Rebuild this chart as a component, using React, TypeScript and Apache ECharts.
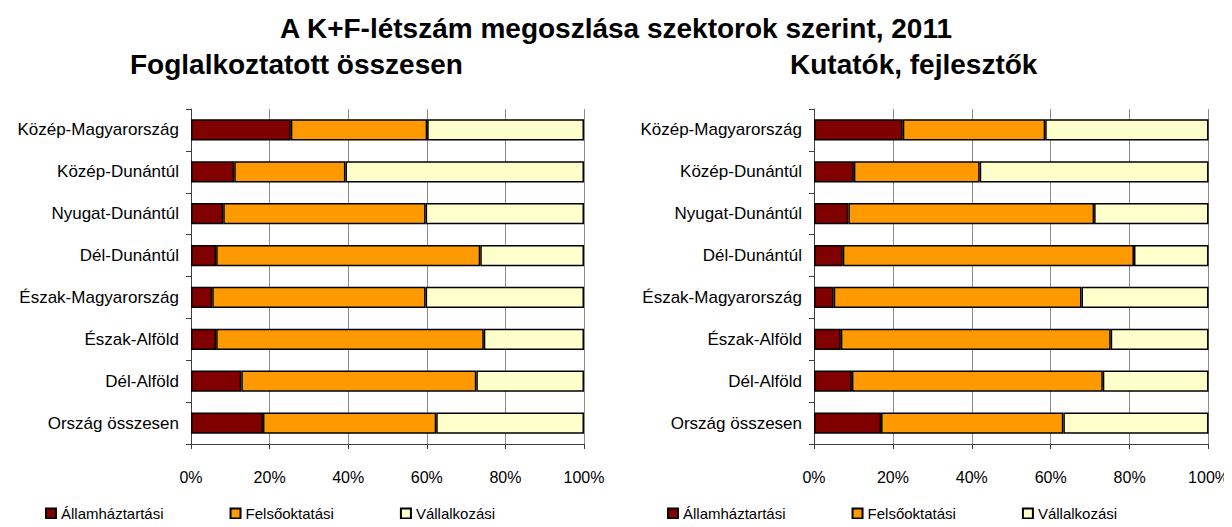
import React, { useEffect, useRef } from "react";
import * as echarts from "echarts";

const regions = [
  "Közép-Magyarország",
  "Közép-Dunántúl",
  "Nyugat-Dunántúl",
  "Dél-Dunántúl",
  "Észak-Magyarország",
  "Észak-Alföld",
  "Dél-Alföld",
  "Ország összesen",
];

const sectorNames = ["Államháztartási", "Felsőoktatási", "Vállalkozási"];
const sectorColors = ["#800000", "#FF9900", "#FFFFCC"];

// Foglalkoztatott összesen (%)
const totalState = [25.4, 11.0, 8.2, 6.4, 5.4, 6.4, 12.8, 18.3];
const totalHigherEd = [34.7, 28.3, 51.5, 67.2, 54.3, 68.1, 59.8, 44.1];
const totalBusiness = [39.9, 60.7, 40.3, 26.4, 40.3, 25.5, 27.4, 37.6];

// Kutatók, fejlesztők (%)
const resState = [22.5, 10.1, 8.7, 7.3, 5.0, 6.8, 9.6, 17.0];
const resHigherEd = [36.1, 31.9, 62.3, 73.8, 62.8, 68.4, 63.6, 46.2];
const resBusiness = [41.4, 58.0, 29.0, 18.9, 32.2, 24.8, 26.8, 36.8];

const xTicks = [0, 20, 40, 60, 80, 100];

const mainTitle = "A K+F-létszám megoszlása szektorok szerint, 2011";
const leftTitle = "Foglalkoztatott összesen";
const rightTitle = "Kutatók, fejlesztők";

const FONT = "'Liberation Sans', Arial, sans-serif";

export default function App() {
  const ref = useRef<HTMLDivElement>(null);
  useEffect(() => {
    if (!ref.current) return;
    const chart = echarts.init(ref.current, undefined, { renderer: "svg" });
    const grids = [
      { left: 191, width: 393, top: 109, height: 335 },
      { left: 814, width: 395, top: 109, height: 335 },
    ];
    const xAxis = grids.map((_, i) => ({
      type: "value",
      gridIndex: i,
      min: xTicks[0],
      max: xTicks[xTicks.length - 1],
      interval: 20,
      axisLine: { show: true, lineStyle: { color: "#404040", width: 1 } },
      axisTick: { show: true, length: 5, lineStyle: { color: "#404040" } },
      axisLabel: {
        formatter: "{value}%",
        color: "#000",
        fontFamily: FONT,
        fontSize: 16,
        margin: 25,
      },
      splitLine: { show: true, lineStyle: { color: "#8c8c8c", width: 1 } },
    }));
    const yAxis = grids.map((_, i) => ({
      type: "category",
      gridIndex: i,
      inverse: true,
      data: regions,
      axisLine: { show: true, lineStyle: { color: "#404040", width: 1 } },
      axisTick: { show: true, length: 5, lineStyle: { color: "#404040" } },
      axisLabel: {
        color: "#000",
        fontFamily: FONT,
        fontSize: 17,
        margin: 12,
      },
      splitLine: { show: false },
    }));
    const leftData = [totalState, totalHigherEd, totalBusiness];
    const rightData = [resState, resHigherEd, resBusiness];
    const mk = (data: number[][], idx: number, stack: string) =>
      data.map((vals, k) => ({
        name: sectorNames[k],
        type: "bar",
        stack,
        xAxisIndex: idx,
        yAxisIndex: idx,
        barCategoryGap: "49%",
        data: vals,
        itemStyle: { color: sectorColors[k], borderColor: "#000", borderWidth: 1.5 },
      }));
    const legendBase = {
      top: 506,
      padding: 0,
      itemWidth: 10,
      itemHeight: 10,
      itemGap: 66,
      data: sectorNames,
      icon: "rect",
      textStyle: { fontFamily: FONT, fontSize: 15, color: "#000", padding: [0, 0, 0, 0] },
    };
    chart.setOption({
      animation: false,
      backgroundColor: "#fff",
      title: [
        {
          text: mainTitle,
          left: "center",
          top: 14,
          padding: 0,
          textStyle: { fontFamily: FONT, fontSize: 28, fontWeight: "bold", color: "#000" },
        },
        {
          text: leftTitle,
          left: 130,
          top: 50,
          padding: 0,
          textStyle: { fontFamily: FONT, fontSize: 28, fontWeight: "bold", color: "#000" },
        },
        {
          text: rightTitle,
          left: 790,
          top: 50,
          padding: 0,
          textStyle: { fontFamily: FONT, fontSize: 28, fontWeight: "bold", color: "#000" },
        },
      ],
      legend: [
        { ...legendBase, left: 45 },
        { ...legendBase, left: 667 },
      ],
      grid: grids,
      xAxis,
      yAxis,
      series: [...mk(leftData, 0, "L"), ...mk(rightData, 1, "R")],
    });
    return () => chart.dispose();
  }, []);
  return <div ref={ref} style={{ width: 1232, height: 527, margin: -8 }} />;
}
